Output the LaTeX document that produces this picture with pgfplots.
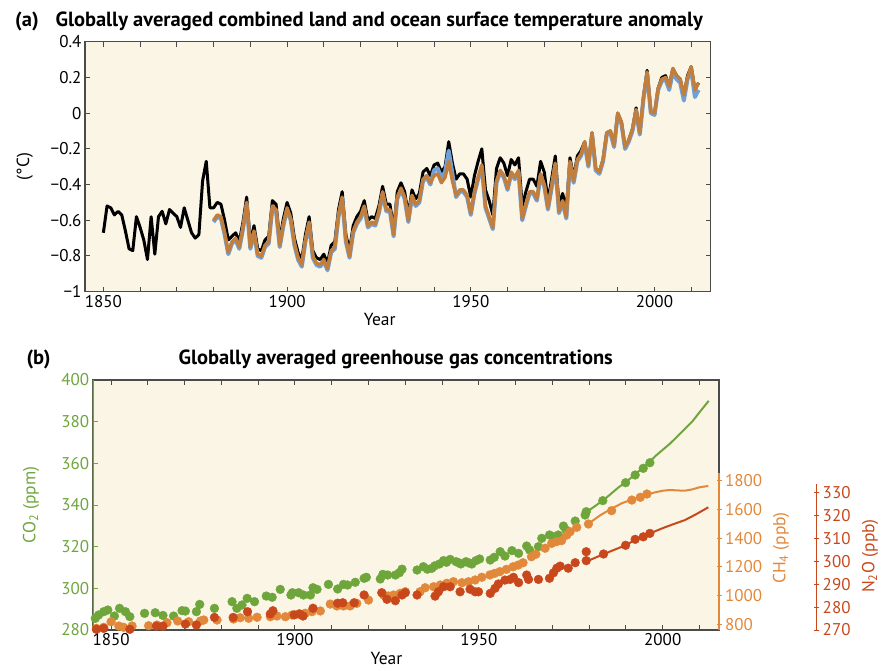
\documentclass[border=0pt]{standalone}
\usepackage{pgfplots}
\usepackage{pgfplotstable}
\pgfplotsset{compat=1.18}
\usepackage{fontspec}
\setmainfont{PT Sans}

\definecolor{bgc}{RGB}{251,245,230}
\definecolor{framec}{RGB}{75,75,75}
\definecolor{gissc}{RGB}{112,160,218}
\definecolor{ncdcc}{RGB}{193,126,60}
\definecolor{co2c}{RGB}{110,166,60}
\definecolor{ch4c}{RGB}{226,136,58}
\definecolor{n2oc}{RGB}{200,72,28}

% temperature anomaly (deg C): black, blue, orange series
\pgfplotstableread{
year had giss ncdc
1850 -0.67 nan nan
1851 -0.52 nan nan
1852 -0.53 nan nan
1853 -0.57 nan nan
1854 -0.55 nan nan
1855 -0.57 nan nan
1856 -0.66 nan nan
1857 -0.76 nan nan
1858 -0.77 nan nan
1859 -0.58 nan nan
1860 -0.64 nan nan
1861 -0.71 nan nan
1862 -0.82 nan nan
1863 -0.58 nan nan
1864 -0.79 nan nan
1865 -0.58 nan nan
1866 -0.55 nan nan
1867 -0.62 nan nan
1868 -0.54 nan nan
1869 -0.56 nan nan
1870 -0.58 nan nan
1871 -0.64 nan nan
1872 -0.53 nan nan
1873 -0.60 nan nan
1874 -0.67 nan nan
1875 -0.70 nan nan
1876 -0.68 nan nan
1877 -0.38 nan nan
1878 -0.27 nan nan
1879 -0.53 nan nan
1880 -0.53 -0.61 -0.60
1881 -0.50 -0.58 -0.57
1882 -0.51 -0.59 -0.58
1883 -0.60 -0.68 -0.67
1884 -0.71 -0.79 -0.78
1885 -0.69 -0.73 -0.72
1886 -0.67 -0.71 -0.70
1887 -0.72 -0.76 -0.75
1888 -0.61 -0.65 -0.64
1889 -0.47 -0.51 -0.50
1890 -0.72 -0.76 -0.75
1891 -0.63 -0.67 -0.66
1892 -0.76 -0.80 -0.79
1893 -0.77 -0.81 -0.80
1894 -0.71 -0.75 -0.74
1895 -0.69 -0.73 -0.72
1896 -0.49 -0.53 -0.52
1897 -0.51 -0.55 -0.54
1898 -0.71 -0.75 -0.74
1899 -0.59 -0.63 -0.62
1900 -0.50 -0.54 -0.53
1901 -0.56 -0.60 -0.59
1902 -0.70 -0.74 -0.73
1903 -0.78 -0.82 -0.81
1904 -0.82 -0.86 -0.85
1905 -0.68 -0.72 -0.71
1906 -0.58 -0.62 -0.61
1907 -0.77 -0.81 -0.80
1908 -0.81 -0.85 -0.84
1909 -0.82 -0.86 -0.85
1910 -0.79 -0.83 -0.82
1911 -0.84 -0.88 -0.87
1912 -0.74 -0.78 -0.77
1913 -0.72 -0.76 -0.75
1914 -0.54 -0.58 -0.57
1915 -0.44 -0.48 -0.47
1916 -0.68 -0.72 -0.71
1917 -0.77 -0.81 -0.80
1918 -0.63 -0.67 -0.66
1919 -0.58 -0.62 -0.61
1920 -0.55 -0.59 -0.58
1921 -0.49 -0.53 -0.52
1922 -0.60 -0.64 -0.63
1923 -0.58 -0.62 -0.61
1924 -0.59 -0.63 -0.62
1925 -0.52 -0.56 -0.55
1926 -0.41 -0.45 -0.44
1927 -0.51 -0.55 -0.54
1928 -0.51 -0.55 -0.54
1929 -0.65 -0.69 -0.68
1930 -0.44 -0.48 -0.47
1931 -0.39 -0.43 -0.42
1932 -0.44 -0.48 -0.47
1933 -0.57 -0.61 -0.60
1934 -0.43 -0.47 -0.46
1935 -0.48 -0.52 -0.51
1936 -0.45 -0.50 -0.49
1937 -0.33 -0.38 -0.37
1938 -0.31 -0.36 -0.35
1939 -0.35 -0.40 -0.39
1940 -0.29 -0.32 -0.35
1941 -0.28 -0.31 -0.34
1942 -0.33 -0.36 -0.39
1943 -0.30 -0.33 -0.36
1944 -0.16 -0.21 -0.27
1945 -0.28 -0.34 -0.38
1946 -0.37 -0.47 -0.46
1947 -0.34 -0.44 -0.43
1948 -0.34 -0.44 -0.43
1949 -0.37 -0.47 -0.46
1950 -0.47 -0.57 -0.56
1951 -0.35 -0.45 -0.44
1952 -0.27 -0.37 -0.36
1953 -0.20 -0.30 -0.29
1954 -0.43 -0.53 -0.52
1955 -0.49 -0.59 -0.58
1956 -0.57 -0.65 -0.64
1957 -0.31 -0.39 -0.38
1958 -0.25 -0.33 -0.32
1959 -0.28 -0.36 -0.35
1960 -0.35 -0.43 -0.42
1961 -0.26 -0.34 -0.33
1962 -0.29 -0.37 -0.36
1963 -0.25 -0.33 -0.32
1964 -0.52 -0.60 -0.59
1965 -0.44 -0.52 -0.51
1966 -0.37 -0.45 -0.44
1967 -0.37 -0.45 -0.44
1968 -0.41 -0.49 -0.48
1969 -0.27 -0.35 -0.34
1970 -0.33 -0.41 -0.40
1971 -0.49 -0.54 -0.53
1972 -0.37 -0.42 -0.41
1973 -0.24 -0.29 -0.28
1974 -0.51 -0.56 -0.55
1975 -0.45 -0.50 -0.49
1976 -0.54 -0.59 -0.58
1977 -0.25 -0.28 -0.27
1978 -0.36 -0.39 -0.38
1979 -0.24 -0.27 -0.26
1980 -0.21 -0.24 -0.23
1981 -0.16 -0.17 -0.16
1982 -0.29 -0.30 -0.29
1983 -0.11 -0.12 -0.11
1984 -0.31 -0.32 -0.31
1985 -0.33 -0.34 -0.33
1986 -0.26 -0.27 -0.26
1987 -0.11 -0.12 -0.11
1988 -0.10 -0.11 -0.10
1989 -0.18 -0.19 -0.18
1990 0.00 -0.01 0.00
1991 -0.05 -0.06 -0.05
1992 -0.20 -0.20 -0.19
1993 -0.15 -0.16 -0.15
1994 -0.09 -0.10 -0.09
1995 0.03 0.01 0.02
1996 -0.12 -0.12 -0.11
1997 0.09 0.08 0.09
1998 0.24 0.22 0.23
1999 0.01 0.00 0.01
2000 -0.01 -0.01 0.00
2001 0.14 0.13 0.14
2002 0.20 0.18 0.19
2003 0.21 0.19 0.20
2004 0.15 0.13 0.15
2005 0.25 0.23 0.25
2006 0.21 0.19 0.21
2007 0.19 0.17 0.19
2008 0.10 0.07 0.10
2009 0.21 0.19 0.20
2010 0.26 0.24 0.26
2011 0.13 0.09 0.13
2012 0.17 0.13 0.17
}\tempdata

% CO2 (ppm), ice core points and instrumental line
\pgfplotstableread{
year ppm
1845.7 285.6
1846.6 287.2
1848.0 288.8
1849.1 289.6
1850.9 286.7
1852.3 290.4
1853.9 288.8
1855.1 286.4
1859.1 288.0
1862.0 288.3
1864.1 287.0
1867.0 286.7
1869.3 289.3
1870.2 289.1
1873.2 288.8
1874.1 292.3
1878.1 290.4
1882.9 293.6
1884.2 290.4
1885.6 292.0
1887.0 295.2
1889.0 293.6
1892.2 296.3
1893.8 295.7
1896.0 299.5
1898.9 296.8
1899.3 297.9
1901.0 297.9
1902.3 296.8
1904.2 296.8
1904.9 300.3
1906.0 299.5
1909.1 301.9
1911.6 299.7
1913.2 301.9
1914.3 301.6
1916.4 302.9
1918.8 304.8
1919.4 305.3
1923.2 304.5
1923.9 306.7
1925.2 306.4
1927.3 306.4
1928.4 307.5
1929.1 309.2
1933.2 308.8
1934.9 310.4
1936.0 309.2
1937.2 309.6
1938.0 310.8
1939.3 311.7
1940.4 313.3
1941.2 312.5
1942.2 313.9
1943.8 312.8
1944.5 312.3
1945.1 311.7
1946.5 312.8
1947.3 312.2
1948.1 311.7
1949.2 313.3
1950.2 314.1
1953.1 313.6
1954.2 314.9
1955.8 317.6
1957.1 315.5
1959.0 318.1
1960.8 316.8
1963.0 320.3
1963.8 318.4
1966.2 320.0
1967.1 324.0
1969.2 325.6
1970.3 324.8
1971.6 325.6
1973.0 329.9
1973.7 328.0
1976.2 332.3
1978.9 335.2
1979.2 336.8
1983.7 342.1
1989.9 350.7
1992.5 354.4
1994.7 357.6
1996.5 360.3
}\cotwo

\pgfplotstableread{
year ppm
1978.9 335.5
1980 337.5
1982 340.0
1984 342.5
1986 345.5
1988 348.5
1990 351.0
1992 354.0
1994 357.0
1996 360.0
1998 363.5
2000 366.5
2001 368.0
2002 369.5
2004 373.0
2006 376.5
2008 380.0
2010 384.5
2012.5 390.0
}\cotwoline

% CH4 (ppb)
\pgfplotstableread{
year ppb
1846.0 772
1848.0 779
1850.0 818
1852.1 788
1853.4 779
1855.7 788
1860.2 790
1862.5 795
1865.2 811
1868.1 823
1871.1 818
1874.3 823
1875.2 830
1878.8 830
1883.3 837
1885.1 846
1887.4 842
1889.7 849
1893.3 853
1895.1 858
1897.4 853
1899.2 865
1901.0 872
1902.8 877
1904.6 888
1906.9 893
1909.6 941
1911.4 928
1913.2 928
1915.0 928
1916.8 946
1920.0 969
1924.1 1004
1925.4 997
1926.8 1004
1928.6 1016
1930.0 1027
1934.0 1027
1935.4 1055
1937.7 1062
1939.5 1074
1941.3 1086
1943.1 1097
1945.4 1090
1947.2 1097
1949.0 1109
1950.8 1128
1953.0 1144
1954.3 1155
1955.7 1167
1957.5 1183
1959.3 1201
1960.7 1213
1962.0 1229
1964.3 1271
1965.5 1288
1968.0 1330
1969.8 1364
1971.1 1376
1972.5 1383
1973.9 1422
1974.8 1445
1976.6 1476
1979.8 1499
1986.1 1592
1991.6 1666
1993.9 1685
1995.7 1708
}\chfour

\pgfplotstableread{
year ppb
1980 1505
1983 1560
1986 1605
1989 1645
1992 1672
1995 1700
1998 1720
2000 1731
2002 1736
2004 1733
2006 1731
2008 1740
2010 1755
2012.4 1764
}\chfourline

% N2O (ppb)
\pgfplotstableread{
year ppb
1846.0 270.3
1848.0 270.7
1855.1 270.3
1862.3 271.7
1864.1 271.7
1870.2 272.6
1873.2 272.2
1878.1 275.5
1883.2 275.5
1887.1 278.0
1893.3 277.0
1894.0 278.4
1899.8 276.6
1901.3 277.0
1902.2 276.1
1904.9 279.5
1911.6 281.7
1913.0 281.9
1916.1 281.9
1918.8 285.3
1923.6 286.3
1925.0 283.4
1927.3 282.8
1929.1 285.3
1930.0 286.3
1933.2 285.3
1938.1 284.8
1939.0 286.7
1940.4 288.9
1942.2 288.9
1944.9 286.7
1947.6 287.8
1949.0 286.7
1949.9 286.7
1953.1 286.0
1954.4 288.2
1955.3 290.1
1957.1 291.8
1958.5 292.1
1959.4 293.0
1960.8 290.7
1963.0 294.0
1963.5 292.1
1966.2 292.1
1969.2 292.6
1970.3 295.0
1971.2 297.0
1972.1 297.9
1974.3 297.0
1976.2 299.4
1979.2 304.2
1979.2 300.3
1983.9 303.2
1989.9 307.0
1992.5 309.6
1994.7 310.7
1996.5 312.2
}\ntwoo

\pgfplotstableread{
year ppb
1979.8 300.3
1984 303.2
1990 307.1
1992.5 309.4
1995 311.0
1997 312.5
2000 314.5
2003 316.3
2006 318.0
2009 320.5
2012.4 323.6
}\ntwooline

\pgfplotsset{
  every axis/.append style={
    scale only axis,
    tick label style={font=\fontsize{17}{20}\selectfont},
    label style={font=\fontsize{17.5}{20}\selectfont},
    tick align=inside,
    major tick length=5pt, minor tick length=5pt,
  },
  dots/.style={only marks, mark=*, mark size=4.4pt, mark options={draw=#1, fill=#1}},
}

\begin{document}
\begin{tikzpicture}[font=\fontsize{17}{20}\selectfont]
\useasboundingbox (0pt,0pt) rectangle (882pt,670pt);

% ---- panel (a)
\node[anchor=base west, font=\fontsize{20.5}{22}\selectfont\bfseries] at (11.7pt,643.3pt) {(a)};
\node[anchor=base west, font=\fontsize{20.5}{22}\selectfont\bfseries] at (52pt,643.3pt)
  {Globally averaged combined land and ocean surface temperature anomaly};

\begin{axis}[
  at={(85pt,378.3pt)}, anchor=south west,
  width=625.7pt, height=250pt,
  xmin=1845, xmax=2015.3, ymin=-1, ymax=0.4,
  xtick={1850,1900,1950,2000}, xticklabels={1850,1900,1950,2000},
  minor xtick={1860,1870,1880,1890,1910,1920,1930,1940,1960,1970,1980,1990,2010},
  ytick={-1,-0.8,-0.6,-0.4,-0.2,0,0.2,0.4},
  yticklabels={−1,−0.8,−0.6,−0.4,−0.2,0,0.2,0.4},
  axis background/.style={fill=bgc},
  axis line style={framec, line width=1.2pt},
  tick style={framec, line width=1pt},
  xlabel={Year}, ylabel={(°C)},
  xlabel style={at={(axis description cs:0.471,-0.113)}, anchor=center},
  ylabel style={at={(axis description cs:-0.096,0.5)}, anchor=center},
  unbounded coords=jump,
]
\addplot[black, line width=3pt, line join=round] table[x=year, y=had] {\tempdata};
\addplot[gissc, line width=4pt, line join=round] table[x=year, y=giss] {\tempdata};
\addplot[ncdcc, line width=3.4pt, line join=round] table[x=year, y=ncdc] {\tempdata};
\end{axis}

% ---- panel (b)
\node[anchor=base west, font=\fontsize{20.5}{22}\selectfont\bfseries] at (23pt,306pt) {(b)};
\node[anchor=base west, font=\fontsize{20.5}{22}\selectfont\bfseries] at (175pt,306pt)
  {Globally averaged greenhouse gas concentrations};

% CO2 axis with frame
\begin{axis}[
  at={(92.7pt,40pt)}, anchor=south west,
  width=626.3pt, height=250pt,
  xmin=1845, xmax=2015.3, ymin=280, ymax=400,
  xtick={1850,1900,1950,2000}, xticklabels={1850,1900,1950,2000},
  minor xtick={1860,1870,1880,1890,1910,1920,1930,1940,1960,1970,1980,1990,2010},
  ytick={280,300,...,400},
  yticklabels={280,300,320,340,360,380,400},
  ytick pos=left,
  axis background/.style={fill=bgc},
  axis line style={framec, line width=1.2pt},
  tick style={framec, line width=1pt},
  y tick style={co2c},
  yticklabel style={co2c},
  xlabel={Year}, ylabel={CO\textsubscript{2} (ppm)},
  xlabel style={at={(axis description cs:0.469,-0.112)}, anchor=center},
  ylabel style={at={(axis description cs:-0.0985,0.5)}, anchor=center, co2c},
]
\addplot[co2c, line width=2pt] table[x=year, y=ppm] {\cotwoline};
\addplot[dots=co2c] table[x=year, y=ppm] {\cotwo};
\draw[co2c, line width=1.6pt] (rel axis cs:0,0) -- (rel axis cs:0,1);
\end{axis}

% CH4 data (hidden scale, same box)
\begin{axis}[
  at={(92.7pt,40pt)}, anchor=south west,
  width=626.3pt, height=250pt, hide axis,
  xmin=1845, xmax=2015.3, ymin=760.3, ymax=2502.5,
]
\addplot[ch4c, line width=2pt] table[x=year, y=ppb] {\chfourline};
\addplot[dots=ch4c] table[x=year, y=ppb] {\chfour};
\end{axis}

% N2O data (hidden scale, same box)
\begin{axis}[
  at={(92.7pt,40pt)}, anchor=south west,
  width=626.3pt, height=250pt, hide axis,
  xmin=1845, xmax=2015.3, ymin=270, ymax=379.2,
]
\addplot[n2oc, line width=2pt] table[x=year, y=ppb] {\ntwooline};
\addplot[dots=n2oc] table[x=year, y=ppb] {\ntwoo};
\end{axis}

% CH4 scale
\begin{axis}[
  at={(719pt,40pt)}, anchor=south east,
  width=20pt, height=157pt,
  xmin=0, xmax=1, ymin=760.3, ymax=1854,
  hide x axis, axis y line=right,
  ytick={800,1000,1200,1400,1600,1800},
  yticklabels={800,1000,1200,1400,1600,1800},
  y axis line style={ch4c, line width=1.6pt, -},
  y tick style={ch4c, line width=1pt},
  yticklabel style={ch4c},
]
\end{axis}
\node[rotate=90, ch4c, font=\fontsize{17.5}{20}\selectfont] at (781pt,122pt) {CH\textsubscript{4} (ppb)};

% N2O scale
\begin{axis}[
  at={(816.7pt,40pt)}, anchor=south east,
  width=20pt, height=146pt,
  xmin=0, xmax=1, ymin=270, ymax=333.8,
  hide x axis, axis y line=right,
  ytick={270,280,...,330},
  yticklabels={270,280,290,300,310,320,330},
  y axis line style={n2oc, line width=1.4pt, -},
  y tick style={n2oc, line width=1pt},
  yticklabel style={n2oc},
]
\end{axis}
\node[rotate=90, n2oc, font=\fontsize{17.5}{20}\selectfont] at (870pt,114pt) {N\textsubscript{2}O (ppb)};

\end{tikzpicture}
\end{document}
